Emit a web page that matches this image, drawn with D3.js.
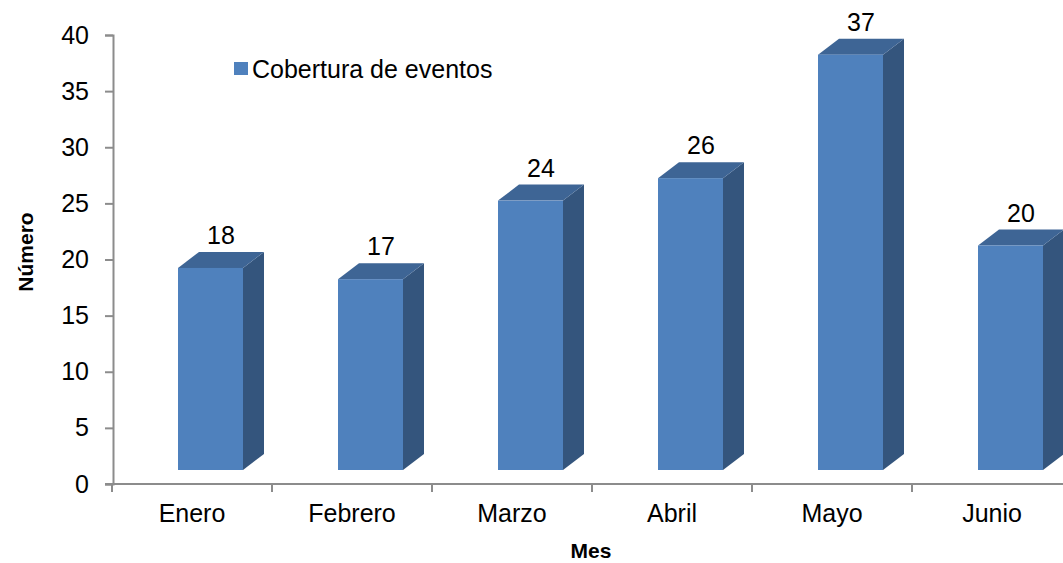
<!DOCTYPE html>
<html>
<head>
<meta charset="utf-8">
<script src="https://cdn.jsdelivr.net/npm/d3@7"></script>
<style>
  body { margin: 0; background: #fff; }
  text { font-family: "Liberation Sans", Arial, sans-serif; fill: #000; }
</style>
</head>
<body>
<div id="chart"></div>
<script>
var months = ["Enero", "Febrero", "Marzo", "Abril", "Mayo", "Junio"];
var eventos = [18, 17, 24, 26, 37, 20];
var yTicks = [0, 5, 10, 15, 20, 25, 30, 35, 40];
var seriesName = "Cobertura de eventos";

var width = 1063, height = 563;
var fs = "25px";

var svg = d3.select("#chart").append("svg")
    .attr("width", width)
    .attr("height", height);

// scales
var y = d3.scaleLinear().domain([0, 40]).range([484, 35]);
var x = d3.scaleBand().domain(months).range([112, 1072]);

// 3d depth offsets
var dx = 21, dy = 16, lift = 14;
var barOff = 66, barW = 65;

// y axis
var yAxis = svg.append("g")
    .attr("transform", "translate(113,0)")
    .call(d3.axisLeft(y).tickValues(yTicks).tickSize(8).tickPadding(16));
yAxis.select(".domain").attr("stroke", "#8c8c8c").attr("stroke-width", 2);
yAxis.selectAll(".tick line").attr("stroke", "#8c8c8c").attr("stroke-width", 2);
yAxis.selectAll(".tick text")
    .style("font-size", fs)
    .attr("font-family", "Liberation Sans, Arial, sans-serif")
    .attr("fill", "#000");

// x axis
var xAxis = svg.append("g")
    .attr("transform", "translate(0,484)")
    .call(d3.axisBottom(x).tickSize(0).tickPadding(20));
xAxis.select(".domain").remove();
xAxis.append("line")
    .attr("x1", 105).attr("x2", width)
    .attr("stroke", "#8c8c8c").attr("stroke-width", 2);
xAxis.selectAll(".sep")
    .data(months)
    .enter().append("line")
    .attr("class", "sep")
    .attr("x1", function(d) { return x(d); })
    .attr("x2", function(d) { return x(d); })
    .attr("y1", 0).attr("y2", 8)
    .attr("stroke", "#8c8c8c").attr("stroke-width", 2);
xAxis.selectAll(".tick text")
    .style("font-size", fs)
    .attr("font-family", "Liberation Sans, Arial, sans-serif")
    .attr("fill", "#000");

// bars
var bars = svg.append("g").selectAll("g")
    .data(months)
    .enter().append("g");

bars.each(function(m, i) {
  var g = d3.select(this);
  var x0 = x(m) + barOff, x1 = x0 + barW;
  var yt = y(eventos[i]) - lift, yb = y(0) - lift;

  // side
  g.append("path")
      .attr("d", "M" + x1 + "," + yt + "L" + (x1 + dx) + "," + (yt - dy) +
                 "L" + (x1 + dx) + "," + (yb - dy) + "L" + x1 + "," + yb + "Z")
      .attr("fill", "#34557d");
  // top
  g.append("path")
      .attr("d", "M" + x0 + "," + yt + "L" + (x0 + dx) + "," + (yt - dy) +
                 "L" + (x1 + dx) + "," + (yt - dy) + "L" + x1 + "," + yt + "Z")
      .attr("fill", "#3e6595");
  // front
  g.append("rect")
      .attr("x", x0).attr("y", yt)
      .attr("width", barW).attr("height", yb - yt)
      .attr("fill", "#4f81bd");
  // value label
  g.append("text")
      .attr("x", x0 + barW / 2 + dx / 2)
      .attr("y", yt - dy - 8)
      .attr("text-anchor", "middle")
      .style("font-size", fs)
      .text(eventos[i]);
});

// legend
svg.append("rect")
    .attr("x", 234).attr("y", 62)
    .attr("width", 14).attr("height", 13)
    .attr("fill", "#4f81bd");
svg.append("text")
    .attr("x", 252).attr("y", 78)
    .style("font-size", fs)
    .text(seriesName);

// axis titles
svg.append("text")
    .attr("x", 591).attr("y", 558)
    .attr("text-anchor", "middle")
    .style("font-size", "21px")
    .style("font-weight", "bold")
    .text("Mes");

svg.append("text")
    .attr("transform", "translate(33,252) rotate(-90)")
    .attr("text-anchor", "middle")
    .style("font-size", "21px")
    .style("font-weight", "bold")
    .text("Número");
</script>
</body>
</html>
